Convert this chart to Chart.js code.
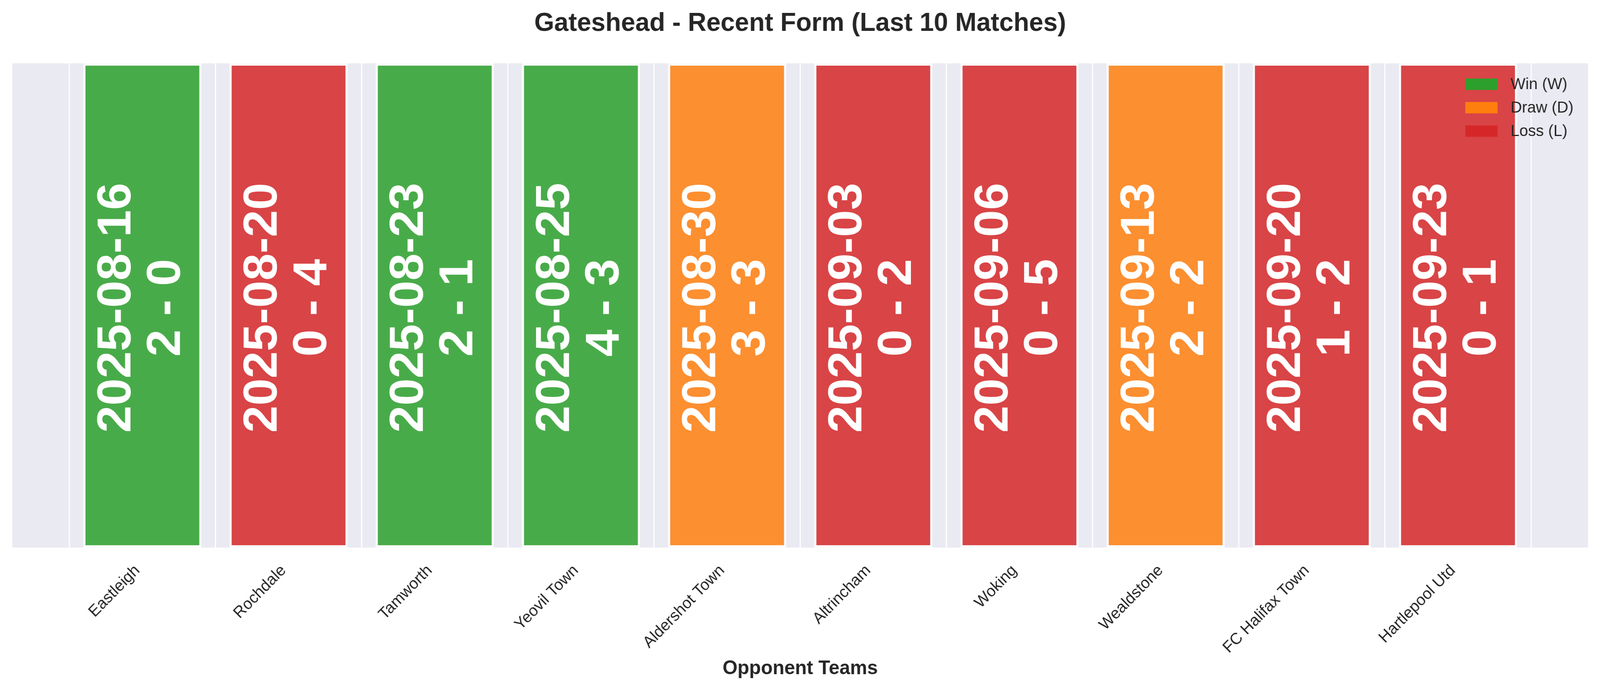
<!DOCTYPE html>
<html>
<head>
<meta charset="utf-8">
<script src="https://cdn.jsdelivr.net/npm/chart.js@4.4.1/dist/chart.umd.min.js"></script>
<style>
  html, body { margin: 0; padding: 0; background: #ffffff; overflow: hidden; }
  /* drawn at 4170x1768, stretched to whatever the window really is */
  #formChart { display: block; width: 100vw; height: 100vh; }
</style>
</head>
<body>
<canvas id="formChart" width="4170" height="1768" style="width:100vw;height:100vh"></canvas>
<script>
// last 10 matches
const teams = ['Eastleigh', 'Rochdale', 'Tamworth', 'Yeovil Town', 'Aldershot Town',
  'Altrincham', 'Woking', 'Wealdstone', 'FC Halifax Town', 'Hartlepool Utd'];
const matchDates = ['2025-08-16', '2025-08-20', '2025-08-23', '2025-08-25', '2025-08-30',
  '2025-09-03', '2025-09-06', '2025-09-13', '2025-09-20', '2025-09-23'];
const scores = ['2 - 0', '0 - 4', '2 - 1', '4 - 3', '3 - 3', '0 - 2', '0 - 5', '2 - 2', '1 - 2', '0 - 1'];
const results = ['W', 'L', 'W', 'W', 'D', 'L', 'L', 'D', 'L', 'L'];

// every match is drawn as a full height bar
const barHeights = [1, 1, 1, 1, 1, 1, 1, 1, 1, 1];

const resultKeys = ['W', 'D', 'L'];
const resultNames = ['Win (W)', 'Draw (D)', 'Loss (L)'];
const resultColors = ['#2ca02c', '#ff7f0e', '#d62728'];

const textColor = '#262626';
const fontName = '"Liberation Sans", Arial, sans-serif';

function withAlpha(hex, a) {
  const r = parseInt(hex.slice(1, 3), 16);
  const g = parseInt(hex.slice(3, 5), 16);
  const b = parseInt(hex.slice(5, 7), 16);
  return `rgba(${r}, ${g}, ${b}, ${a})`;
}

const barColors = results.map(r => withAlpha(resultColors[resultKeys.indexOf(r)], 0.85));

// grey plot background (seaborn darkgrid look)
const plotBackground = {
  id: 'plotBackground',
  beforeDraw(chart) {
    const { ctx, chartArea } = chart;
    ctx.save();
    ctx.fillStyle = '#eaeaf2';
    ctx.fillRect(chartArea.left, chartArea.top, chartArea.right - chartArea.left, chartArea.bottom - chartArea.top);
    ctx.restore();
  }
};

// date + score written vertically inside each bar
const barText = {
  id: 'barText',
  afterDatasetsDraw(chart) {
    const { ctx, chartArea } = chart;
    const meta = chart.getDatasetMeta(0);
    const cy = (chartArea.top + chartArea.bottom) / 2 + 6;
    ctx.save();
    ctx.fillStyle = '#ffffff';
    ctx.font = `bold 125px ${fontName}`;
    ctx.textAlign = 'center';
    ctx.textBaseline = 'alphabetic';
    meta.data.forEach((bar, i) => {
      ctx.save();
      ctx.translate(bar.x, cy);
      ctx.rotate(-Math.PI / 2);
      ctx.fillText(matchDates[i], 0, -31);
      ctx.fillText(scores[i], 0, 98);
      ctx.restore();
    });
    ctx.restore();
  }
};

// legend in the top right corner of the plot
const cornerLegend = {
  id: 'cornerLegend',
  afterDraw(chart) {
    const { ctx, chartArea } = chart;
    const boxLeft = chartArea.right - 320;
    ctx.save();
    ctx.font = `41px ${fontName}`;
    ctx.textBaseline = 'middle';
    ctx.textAlign = 'left';
    resultNames.forEach((name, i) => {
      const yMid = chartArea.top + 54 + i * 60;
      ctx.fillStyle = resultColors[i];
      ctx.fillRect(boxLeft, yMid - 15, 84, 29);
      ctx.fillStyle = textColor;
      ctx.fillText(name, boxLeft + 118, yMid + 1);
    });
    ctx.restore();
  }
};

new Chart(document.getElementById('formChart'), {
  type: 'bar',
  data: {
    datasets: [{
      data: teams.map((t, i) => ({ x: i, y: barHeights[i] })),
      backgroundColor: barColors,
      borderColor: 'rgba(255, 255, 255, 0.8)',
      borderWidth: 6,
      borderSkipped: false,
      barPercentage: 0.81,
      categoryPercentage: 1.0
    }]
  },
  options: {
    responsive: false,
    devicePixelRatio: 1,
    animation: false,
    layout: { padding: { left: 32, right: 31, top: 0, bottom: 0 } },
    plugins: {
      legend: { display: false },
      tooltip: { enabled: false },
      title: {
        display: true,
        text: 'Gateshead - Recent Form (Last 10 Matches)',
        color: textColor,
        font: { family: fontName, size: 66.7, weight: 'bold' },
        padding: { top: 21, bottom: 61 }
      }
    },
    scales: {
      x: {
        type: 'linear',
        min: -0.89,
        max: 9.89,
        offset: false,
        afterBuildTicks(axis) {
          axis.ticks = teams.map((t, i) => ({ value: i }));
        },
        afterFit(axis) {
          axis.height = 367;
        },
        grid: { color: '#ffffff', lineWidth: 3, drawTicks: false },
        border: { display: false },
        ticks: {
          autoSkip: false,
          minRotation: 45,
          maxRotation: 45,
          padding: 35,
          labelOffset: -13,
          color: textColor,
          font: { family: fontName, size: 41 },
          callback: v => teams[v]
        },
        title: {
          display: true,
          text: 'Opponent Teams',
          color: textColor,
          font: { family: fontName, size: 50, weight: 'bold' },
          padding: { top: 0, bottom: 27 }
        }
      },
      y: {
        display: false,
        min: 0,
        max: 1
      }
    }
  },
  plugins: [plotBackground, barText, cornerLegend]
});
</script>
</body>
</html>
